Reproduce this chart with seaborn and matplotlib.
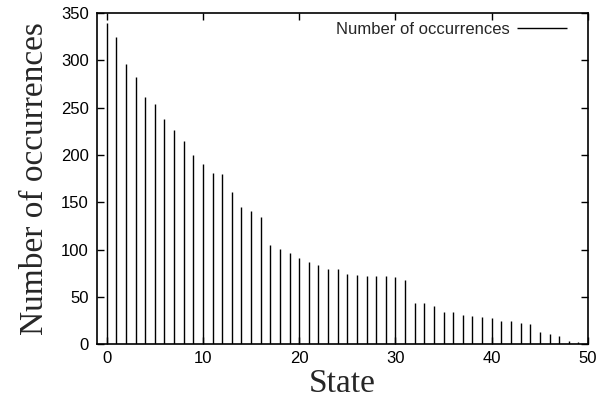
import seaborn as sns
import matplotlib.pyplot as plt

states = list(range(50))
counts = [339, 325, 296, 282, 261, 254, 238, 226, 215, 200,
          190, 181, 180, 161, 145, 141, 134, 105, 101, 96,
          91, 87, 84, 79, 79, 74, 73, 72, 72, 72,
          71, 68, 44, 43, 40, 34, 34, 31, 30, 29,
          28, 25, 24, 22, 21, 13, 11, 9, 3, 2]

sns.set_style("ticks")
plt.rcParams['font.family'] = ['Liberation Sans', 'DejaVu Sans']

fig = plt.figure(figsize=(6.1, 4.03), dpi=100)
ax = fig.add_axes([0.159, 0.146, 0.805, 0.822])

ax.vlines(states, 0, counts, colors='black', linewidth=1.0,
          label='Number of occurrences')

ax.set_xlim(-1, 50)
ax.set_ylim(0, 350)
ax.set_xticks(range(0, 51, 10))
ax.set_yticks(range(0, 351, 50))
ax.tick_params(direction='in', length=5, width=1.0, labelsize=12,
               top=True, right=True, colors='black')
ax.tick_params(axis='x', pad=5)
ax.tick_params(axis='y', pad=6)
for s in ax.spines.values():
    s.set_linewidth(1.2)
    s.set_color('black')

ax.set_xlabel('State', family='Liberation Serif', fontsize=24, labelpad=2)
ax.set_ylabel('Number of occurrences', family='Liberation Serif', fontsize=24,
              labelpad=8)

ax.legend(loc='upper right', frameon=False, markerfirst=False, fontsize=12,
          handlelength=3.0, handletextpad=0.4, borderaxespad=0.0,
          borderpad=0.55, bbox_to_anchor=(0.975, 1.0))

fig.savefig('out.png', dpi=100)
